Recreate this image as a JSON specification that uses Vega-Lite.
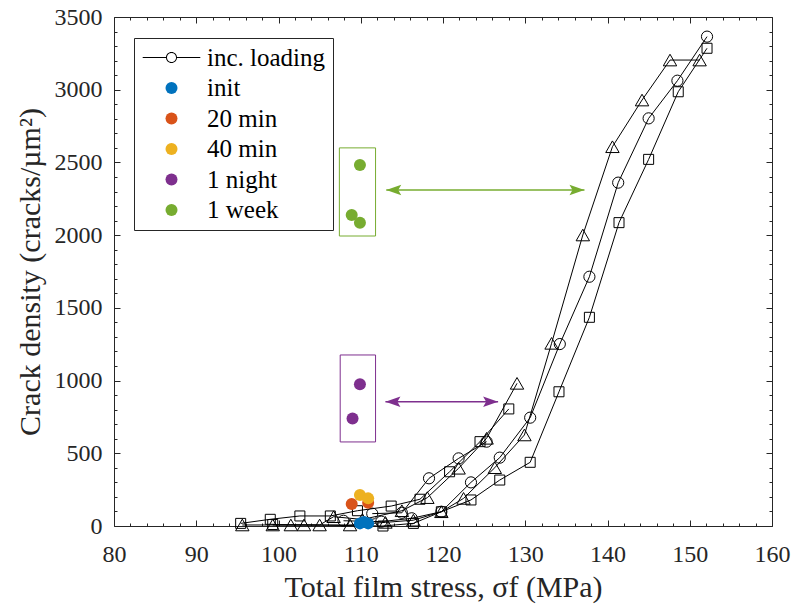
{
  "$schema": "https://vega.github.io/schema/vega-lite/v6.json",
  "width": 658,
  "height": 509,
  "autosize": {"type": "none"},
  "padding": {"left": 114, "top": 17, "right": 22, "bottom": 84},
  "background": "white",
  "config": {
    "font": "Liberation Serif, DejaVu Serif, serif",
    "view": {"stroke": "#262626", "strokeWidth": 1},
    "axis": {
      "grid": false, "domain": false, "labelColor": "#262626", "titleColor": "#262626",
      "tickColor": "#262626", "labelFont": "Liberation Serif, DejaVu Serif, serif", "titleFont": "Liberation Serif, DejaVu Serif, serif",
      "labelFontSize": 24, "titleFontSize": 30, "titleFontWeight": "normal", "format": "d",
      "labelOverlap": false, "labelBound": false, "labelFlush": false, "tickWidth": 1
    },
    "legend": {
      "labelFont": "Liberation Serif, DejaVu Serif, serif", "labelFontSize": 25, "labelColor": "#000000",
      "symbolSize": 144, "padding": 7, "rowPadding": 4.5, "symbolOffset": 18, "labelOffset": 23,
      "strokeColor": "#262626", "fillColor": "white", "symbolStrokeWidth": 0, "labelLimit": 0
    }
  },
  "datasets": {
    "curves": [
      {"s": "CR", "m": "c", "o": 1, "x": 107.9, "y": 36},
      {"s": "CR", "m": "c", "o": 2, "x": 112.5, "y": 30},
      {"s": "CR", "m": "c", "o": 3, "x": 116.2, "y": 53},
      {"s": "CR", "m": "c", "o": 4, "x": 119.8, "y": 98},
      {"s": "CR", "m": "c", "o": 5, "x": 123.4, "y": 300},
      {"s": "CR", "m": "c", "o": 6, "x": 126.9, "y": 470},
      {"s": "CR", "m": "c", "o": 7, "x": 130.6, "y": 745},
      {"s": "CR", "m": "c", "o": 8, "x": 134.2, "y": 1251},
      {"s": "CR", "m": "c", "o": 9, "x": 137.8, "y": 1714},
      {"s": "CR", "m": "c", "o": 10, "x": 141.3, "y": 2361},
      {"s": "CR", "m": "c", "o": 11, "x": 145.0, "y": 2803},
      {"s": "CR", "m": "c", "o": 12, "x": 148.5, "y": 3062},
      {"s": "CR", "m": "c", "o": 13, "x": 152.1, "y": 3365},
      {"s": "CL", "m": "c", "o": 1, "x": 111.4, "y": 85},
      {"s": "CL", "m": "c", "o": 2, "x": 115.0, "y": 91},
      {"s": "CL", "m": "c", "o": 3, "x": 118.3, "y": 328},
      {"s": "CL", "m": "c", "o": 4, "x": 121.9, "y": 465},
      {"s": "CL", "m": "c", "o": 5, "x": 125.3, "y": 580},
      {"s": "TR", "m": "t", "o": 1, "x": 99.3, "y": 7},
      {"s": "TR", "m": "t", "o": 2, "x": 103.1, "y": 7},
      {"s": "TR", "m": "t", "o": 3, "x": 108.7, "y": 7},
      {"s": "TR", "m": "t", "o": 4, "x": 113.0, "y": 25},
      {"s": "TR", "m": "t", "o": 5, "x": 116.4, "y": 40},
      {"s": "TR", "m": "t", "o": 6, "x": 119.8, "y": 98},
      {"s": "TR", "m": "t", "o": 7, "x": 122.5, "y": 190},
      {"s": "TR", "m": "t", "o": 8, "x": 126.3, "y": 401},
      {"s": "TR", "m": "t", "o": 9, "x": 129.9, "y": 626},
      {"s": "TR", "m": "t", "o": 10, "x": 133.2, "y": 1256},
      {"s": "TR", "m": "t", "o": 11, "x": 137.0, "y": 2001},
      {"s": "TR", "m": "t", "o": 12, "x": 140.6, "y": 2608},
      {"s": "TR", "m": "t", "o": 13, "x": 144.2, "y": 2929},
      {"s": "TR", "m": "t", "o": 14, "x": 147.6, "y": 3204},
      {"s": "TR", "m": "t", "o": 15, "x": 151.2, "y": 3204},
      {"s": "TL", "m": "t", "o": 1, "x": 95.6, "y": 7},
      {"s": "TL", "m": "t", "o": 2, "x": 101.5, "y": 7},
      {"s": "TL", "m": "t", "o": 3, "x": 105.0, "y": 7},
      {"s": "TL", "m": "t", "o": 4, "x": 106.7, "y": 64},
      {"s": "TL", "m": "t", "o": 5, "x": 110.2, "y": 45},
      {"s": "TL", "m": "t", "o": 6, "x": 115.0, "y": 105},
      {"s": "TL", "m": "t", "o": 7, "x": 118.1, "y": 195},
      {"s": "TL", "m": "t", "o": 8, "x": 121.9, "y": 397},
      {"s": "TL", "m": "t", "o": 9, "x": 125.3, "y": 603},
      {"s": "TL", "m": "t", "o": 10, "x": 129.0, "y": 981},
      {"s": "SR", "m": "s", "o": 1, "x": 99.3, "y": 10},
      {"s": "SR", "m": "s", "o": 2, "x": 112.7, "y": 0},
      {"s": "SR", "m": "s", "o": 3, "x": 116.4, "y": 18},
      {"s": "SR", "m": "s", "o": 4, "x": 119.8, "y": 98},
      {"s": "SR", "m": "s", "o": 5, "x": 123.4, "y": 179},
      {"s": "SR", "m": "s", "o": 6, "x": 126.9, "y": 316},
      {"s": "SR", "m": "s", "o": 7, "x": 130.6, "y": 438},
      {"s": "SR", "m": "s", "o": 8, "x": 134.1, "y": 923},
      {"s": "SR", "m": "s", "o": 9, "x": 137.8, "y": 1435},
      {"s": "SR", "m": "s", "o": 10, "x": 141.4, "y": 2086},
      {"s": "SR", "m": "s", "o": 11, "x": 145.0, "y": 2521},
      {"s": "SR", "m": "s", "o": 12, "x": 148.6, "y": 2986},
      {"s": "SR", "m": "s", "o": 13, "x": 152.1, "y": 3285},
      {"s": "SL", "m": "s", "o": 1, "x": 95.4, "y": 18},
      {"s": "SL", "m": "s", "o": 2, "x": 99.0, "y": 46},
      {"s": "SL", "m": "s", "o": 3, "x": 102.6, "y": 69},
      {"s": "SL", "m": "s", "o": 4, "x": 106.3, "y": 69},
      {"s": "SL", "m": "s", "o": 5, "x": 109.6, "y": 105},
      {"s": "SL", "m": "s", "o": 6, "x": 113.7, "y": 137},
      {"s": "SL", "m": "s", "o": 7, "x": 117.2, "y": 184},
      {"s": "SL", "m": "s", "o": 8, "x": 120.8, "y": 373},
      {"s": "SL", "m": "s", "o": 9, "x": 124.5, "y": 580},
      {"s": "SL", "m": "s", "o": 10, "x": 128.0, "y": 805}
    ],
    "cond": [
      {"cond": "init", "x": 109.9, "y": 18},
      {"cond": "init", "x": 110.9, "y": 18},
      {"cond": "init", "x": 110.4, "y": 28},
      {"cond": "20 min", "x": 108.9, "y": 151},
      {"cond": "20 min", "x": 110.9, "y": 160},
      {"cond": "40 min", "x": 109.9, "y": 213},
      {"cond": "40 min", "x": 110.9, "y": 190},
      {"cond": "1 night", "x": 109.9, "y": 974},
      {"cond": "1 night", "x": 109.0, "y": 740},
      {"cond": "1 week", "x": 109.9, "y": 2482},
      {"cond": "1 week", "x": 108.9, "y": 2138},
      {"cond": "1 week", "x": 109.9, "y": 2086}
    ],
    "boxes": [
      {"b": "night", "x1": 107.5, "x2": 111.8, "y1": 578, "y2": 1176},
      {"b": "week", "x1": 107.4, "x2": 111.8, "y1": 1994, "y2": 2600}
    ],
    "arrows": [
      {"a": "night", "x1": 113.0, "x2": 126.7, "y": 855},
      {"a": "week", "x1": 113.1, "x2": 137.2, "y": 2310}
    ]
  },
  "layer": [
    {
      "data": {"name": "boxes"},
      "transform": [{"filter": "datum.b === 'night'"}],
      "mark": {"type": "rect", "fill": null, "stroke": "#7E2F8E", "strokeWidth": 1, "fillOpacity": 0},
      "encoding": {
        "x": {"field": "x1", "type": "quantitative", "scale": {"domain": [80, 160], "nice": false, "zero": false}, "axis": null},
        "x2": {"field": "x2"},
        "y": {"field": "y1", "type": "quantitative", "scale": {"domain": [0, 3500], "nice": false, "zero": false}, "axis": null},
        "y2": {"field": "y2"}
      }
    },
    {
      "data": {"name": "boxes"},
      "transform": [{"filter": "datum.b === 'week'"}],
      "mark": {"type": "rect", "fill": null, "stroke": "#77AC30", "strokeWidth": 1, "fillOpacity": 0},
      "encoding": {
        "x": {"field": "x1", "type": "quantitative", "scale": {"domain": [80, 160], "nice": false, "zero": false}, "axis": null},
        "x2": {"field": "x2"},
        "y": {"field": "y1", "type": "quantitative", "scale": {"domain": [0, 3500], "nice": false, "zero": false}, "axis": null},
        "y2": {"field": "y2"}
      }
    },
    {
      "data": {"name": "arrows"},
      "transform": [{"filter": "datum.a === 'night'"}],
      "mark": {"type": "rule", "color": "#7E2F8E", "strokeWidth": 1.5},
      "encoding": {
        "x": {"field": "x1", "type": "quantitative", "scale": {"domain": [80, 160], "nice": false, "zero": false}, "axis": null},
        "x2": {"field": "x2"},
        "y": {"field": "y", "type": "quantitative", "scale": {"domain": [0, 3500], "nice": false, "zero": false}, "axis": null}
      }
    },
    {
      "data": {"name": "arrows"},
      "transform": [{"filter": "datum.a === 'night'"}],
      "mark": {"type": "point", "shape": "M0,0L2,-0.7L1.6,0L2,0.7Z", "size": 225, "filled": true, "color": "#7E2F8E", "opacity": 1, "strokeWidth": 0},
      "encoding": {
        "x": {"field": "x1", "type": "quantitative", "scale": {"domain": [80, 160], "nice": false, "zero": false}, "axis": null},
        "y": {"field": "y", "type": "quantitative", "scale": {"domain": [0, 3500], "nice": false, "zero": false}, "axis": null}
      }
    },
    {
      "data": {"name": "arrows"},
      "transform": [{"filter": "datum.a === 'night'"}],
      "mark": {"type": "point", "shape": "M0,0L-2,-0.7L-1.6,0L-2,0.7Z", "size": 225, "filled": true, "color": "#7E2F8E", "opacity": 1, "strokeWidth": 0},
      "encoding": {
        "x": {"field": "x2", "type": "quantitative", "scale": {"domain": [80, 160], "nice": false, "zero": false}, "axis": null},
        "y": {"field": "y", "type": "quantitative", "scale": {"domain": [0, 3500], "nice": false, "zero": false}, "axis": null}
      }
    },
    {
      "data": {"name": "arrows"},
      "transform": [{"filter": "datum.a === 'week'"}],
      "mark": {"type": "rule", "color": "#77AC30", "strokeWidth": 1.5},
      "encoding": {
        "x": {"field": "x1", "type": "quantitative", "scale": {"domain": [80, 160], "nice": false, "zero": false}, "axis": null},
        "x2": {"field": "x2"},
        "y": {"field": "y", "type": "quantitative", "scale": {"domain": [0, 3500], "nice": false, "zero": false}, "axis": null}
      }
    },
    {
      "data": {"name": "arrows"},
      "transform": [{"filter": "datum.a === 'week'"}],
      "mark": {"type": "point", "shape": "M0,0L2,-0.7L1.6,0L2,0.7Z", "size": 225, "filled": true, "color": "#77AC30", "opacity": 1, "strokeWidth": 0},
      "encoding": {
        "x": {"field": "x1", "type": "quantitative", "scale": {"domain": [80, 160], "nice": false, "zero": false}, "axis": null},
        "y": {"field": "y", "type": "quantitative", "scale": {"domain": [0, 3500], "nice": false, "zero": false}, "axis": null}
      }
    },
    {
      "data": {"name": "arrows"},
      "transform": [{"filter": "datum.a === 'week'"}],
      "mark": {"type": "point", "shape": "M0,0L-2,-0.7L-1.6,0L-2,0.7Z", "size": 225, "filled": true, "color": "#77AC30", "opacity": 1, "strokeWidth": 0},
      "encoding": {
        "x": {"field": "x2", "type": "quantitative", "scale": {"domain": [80, 160], "nice": false, "zero": false}, "axis": null},
        "y": {"field": "y", "type": "quantitative", "scale": {"domain": [0, 3500], "nice": false, "zero": false}, "axis": null}
      }
    },
    {
      "data": {"name": "curves"},
      "mark": {"type": "line", "color": "black", "strokeWidth": 1},
      "encoding": {
        "x": {"field": "x", "type": "quantitative", "scale": {"domain": [80, 160], "nice": false, "zero": false},
          "axis": {"orient": "bottom", "values": [80, 90, 100, 110, 120, 130, 140, 150, 160], "ticks": false, "labelPadding": 16, "title": "Total film stress, σf (MPa)", "titlePadding": 6}},
        "y": {"field": "y", "type": "quantitative", "scale": {"domain": [0, 3500], "nice": false, "zero": false},
          "axis": {"orient": "left", "values": [0, 500, 1000, 1500, 2000, 2500, 3000, 3500], "ticks": false, "labelPadding": 12, "title": "Crack density (cracks/µm²)", "titlePadding": 9}},
        "detail": {"field": "s", "type": "nominal"},
        "order": {"field": "o", "type": "quantitative"}
      }
    },
    {
      "data": {"name": "curves"},
      "transform": [{"filter": "datum.m === 'c'"}],
      "mark": {"type": "point", "shape": "circle", "size": 125, "filled": false, "color": "black", "strokeWidth": 1, "opacity": 1},
      "encoding": {
        "x": {"field": "x", "type": "quantitative", "scale": {"domain": [80, 160], "nice": false, "zero": false},
          "axis": {"orient": "bottom", "values": [80, 90, 100, 110, 120, 130, 140, 150, 160], "labels": false, "tickSize": -6, "title": null}},
        "y": {"field": "y", "type": "quantitative", "scale": {"domain": [0, 3500], "nice": false, "zero": false},
          "axis": {"orient": "left", "values": [0, 500, 1000, 1500, 2000, 2500, 3000, 3500], "labels": false, "tickSize": -6, "title": null}}
      }
    },
    {
      "data": {"name": "curves"},
      "transform": [{"filter": "datum.m === 't'"}],
      "mark": {"type": "point", "shape": "triangle-up", "size": 180, "filled": false, "color": "black", "strokeWidth": 1, "opacity": 1},
      "encoding": {
        "x": {"field": "x", "type": "quantitative", "scale": {"domain": [80, 160], "nice": false, "zero": false},
          "axis": {"orient": "bottom", "values": [82, 84, 86, 88, 92, 94, 96, 98, 102, 104, 106, 108, 112, 114, 116, 118, 122, 124, 126, 128, 132, 134, 136, 138, 142, 144, 146, 148, 152, 154, 156, 158], "labels": false, "tickSize": -3, "title": null}},
        "y": {"field": "y", "type": "quantitative", "scale": {"domain": [0, 3500], "nice": false, "zero": false},
          "axis": {"orient": "left", "values": [100, 200, 300, 400, 600, 700, 800, 900, 1100, 1200, 1300, 1400, 1600, 1700, 1800, 1900, 2100, 2200, 2300, 2400, 2600, 2700, 2800, 2900, 3100, 3200, 3300, 3400], "labels": false, "tickSize": -3, "title": null}}
      }
    },
    {
      "data": {"name": "curves"},
      "transform": [{"filter": "datum.m === 's'"}],
      "mark": {"type": "point", "shape": "square", "size": 100, "filled": false, "color": "black", "strokeWidth": 1, "opacity": 1},
      "encoding": {
        "x": {"field": "x", "type": "quantitative", "scale": {"domain": [80, 160], "nice": false, "zero": false},
          "axis": {"orient": "top", "values": [80, 90, 100, 110, 120, 130, 140, 150, 160], "labels": false, "tickSize": -6, "title": null}},
        "y": {"field": "y", "type": "quantitative", "scale": {"domain": [0, 3500], "nice": false, "zero": false},
          "axis": {"orient": "right", "values": [0, 500, 1000, 1500, 2000, 2500, 3000, 3500], "labels": false, "tickSize": -6, "title": null}}
      }
    },
    {
      "data": {"name": "cond"},
      "mark": {"type": "point", "filled": true, "size": 144, "opacity": 1, "strokeWidth": 0},
      "encoding": {
        "x": {"field": "x", "type": "quantitative", "scale": {"domain": [80, 160], "nice": false, "zero": false},
          "axis": {"orient": "top", "values": [82, 84, 86, 88, 92, 94, 96, 98, 102, 104, 106, 108, 112, 114, 116, 118, 122, 124, 126, 128, 132, 134, 136, 138, 142, 144, 146, 148, 152, 154, 156, 158], "labels": false, "tickSize": -3, "title": null}},
        "y": {"field": "y", "type": "quantitative", "scale": {"domain": [0, 3500], "nice": false, "zero": false},
          "axis": {"orient": "right", "values": [100, 200, 300, 400, 600, 700, 800, 900, 1100, 1200, 1300, 1400, 1600, 1700, 1800, 1900, 2100, 2200, 2300, 2400, 2600, 2700, 2800, 2900, 3100, 3200, 3300, 3400], "labels": false, "tickSize": -3, "title": null}},
        "color": {"field": "cond", "type": "nominal",
          "scale": {"domain": ["inc. loading", "init", "20 min", "40 min", "1 night", "1 week"], "range": ["#000000", "#0072BD", "#D95319", "#EDB120", "#7E2F8E", "#77AC30"]},
          "legend": {"orient": "none", "legendX": 20, "legendY": 21, "title": null}},
        "shape": {"field": "cond", "type": "nominal",
          "scale": {"domain": ["inc. loading", "init", "20 min", "40 min", "1 night", "1 week"], "range": ["M-4.8,-0.09H-0.9V0.09H-4.8Z M0.9,-0.09H4.8V0.09H0.9Z M-0.92,0A0.92,0.92 0 1,1 0.92,0A0.92,0.92 0 1,1 -0.92,0Z M-0.76,0A0.76,0.76 0 1,0 0.76,0A0.76,0.76 0 1,0 -0.76,0Z", "circle", "circle", "circle", "circle", "circle"]},
          "legend": {"orient": "none", "legendX": 20, "legendY": 21, "title": null}}
      }
    }
  ],
  "resolve": {"axis": {"x": "independent", "y": "independent"}}
}
